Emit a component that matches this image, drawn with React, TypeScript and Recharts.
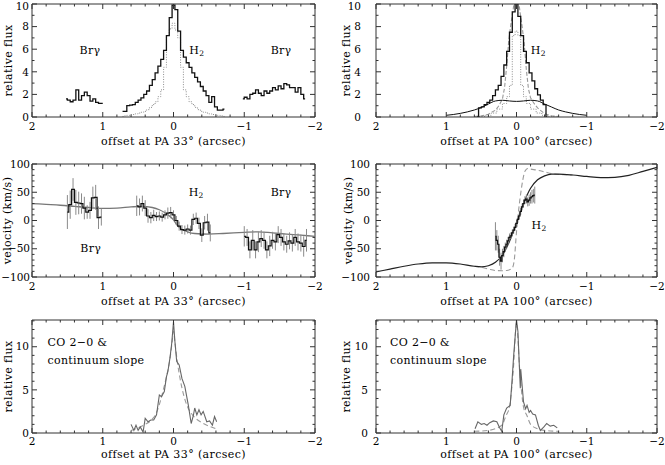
import React from "react";
import { LineChart, Line, XAxis, YAxis, ErrorBar, ReferenceDot, ReferenceLine } from "recharts";

const FONT = "'DejaVu Serif', serif";
const FRAME = "#333";

// ---- tick values and labels
const offsetTicks = [2, 1.8, 1.6, 1.4, 1.2, 1, 0.8, 0.6, 0.4, 0.2, 0, -0.2, -0.4, -0.6, -0.8, -1, -1.2, -1.4, -1.6, -1.8, -2];
const offsetMajor = [2, 1, 0, -1, -2];
const fluxTicks = [0, 1, 2, 3, 4, 5, 6, 7, 8, 9, 10];
const fluxMajor = [0, 2, 4, 6, 8, 10];
const velTicks = [-100, -90, -80, -70, -60, -50, -40, -30, -20, -10, 0, 10, 20, 30, 40, 50, 60, 70, 80, 90, 100];
const velMajor = [-100, -50, 0, 50, 100];
const coTicks = [0, 1, 2, 3, 4, 5, 6, 7, 8, 9, 10, 11, 12, 13];
const coMajor = [0, 5, 10];

// ---- panel 1: flux along PA 33
const p1H2Off = [0.72, 0.68, 0.64, 0.6, 0.56, 0.52, 0.48, 0.44, 0.4, 0.36, 0.32, 0.28, 0.24, 0.2, 0.16, 0.12, 0.08, 0.04, 0, -0.04, -0.08, -0.12, -0.16, -0.2, -0.24, -0.28, -0.32, -0.36, -0.4, -0.44, -0.48, -0.52, -0.56, -0.6, -0.64, -0.68, -0.72];
const p1H2Flux = [0.5, 0.5, 1.0, 1.05, 1.1, 1.3, 1.5, 1.7, 2.0, 2.3, 2.8, 3.3, 3.9, 4.5, 5.1, 5.9, 7.2, 8.8, 9.9, 9.5, 7.6, 5.9, 5.3, 4.8, 4.4, 3.9, 3.5, 3.1, 2.7, 2.3, 1.9, 1.3, 1.8, 0.9, 0.6, 0.6, 0.7];
const p1PsfFlux = [0.05, 0.1, 0.15, 0.2, 0.22, 0.28, 0.35, 0.42, 0.5, 0.65, 0.85, 1.1, 1.35, 1.8, 2.4, 4.4, 7.2, 7.8, 8.3, 7.7, 7.0, 4.4, 2.4, 1.8, 1.35, 1.1, 0.85, 0.65, 0.5, 0.42, 0.35, 0.28, 0.22, 0.2, 0.15, 0.1, 0.05];
const p1BrLOff = [1.52, 1.48, 1.44, 1.4, 1.36, 1.32, 1.28, 1.24, 1.2, 1.16, 1.12, 1.08, 1.04, 1.0];
const p1BrLFlux = [1.6, 1.5, 1.35, 1.5, 2.4, 1.5, 1.9, 2.2, 1.9, 1.4, 1.6, 1.3, 1.2, 1.2];
const p1BrROff = [-0.98, -1.02, -1.06, -1.1, -1.14, -1.18, -1.22, -1.26, -1.3, -1.34, -1.38, -1.42, -1.46, -1.5, -1.54, -1.58, -1.62, -1.66, -1.7, -1.74, -1.78, -1.82, -1.86];
const p1BrRFlux = [1.6, 1.75, 1.6, 2.0, 2.1, 2.4, 2.1, 1.9, 2.3, 2.1, 2.3, 2.6, 2.4, 2.75, 2.5, 2.95, 2.85, 2.6, 2.6, 2.2, 2.6, 2.0, 1.6];

// ---- panel 2: flux along PA 100
const p2H2Off = [0.56, 0.52, 0.48, 0.44, 0.4, 0.36, 0.32, 0.28, 0.24, 0.2, 0.16, 0.12, 0.08, 0.04, 0, -0.04, -0.08, -0.12, -0.16, -0.2, -0.24, -0.28, -0.32, -0.36, -0.4, -0.44];
const p2H2Flux = [0, 0.8, 0.9, 1.1, 1.3, 1.5, 1.9, 2.4, 2.8, 3.6, 4.6, 5.8, 7.5, 9.3, 11.0, 8.9, 7.2, 5.8, 4.8, 3.9, 3.2, 2.5, 1.95, 1.5, 1.1, 0];
const p2NarrowOff = [0.6, 0.5, 0.4, 0.3, 0.25, 0.2, 0.17, 0.14, 0.11, 0.08, 0.05, 0.02, 0, -0.02, -0.05, -0.08, -0.11, -0.14, -0.17, -0.2, -0.25, -0.3, -0.4, -0.5, -0.6];
const p2NarrowFlux = [0.05, 0.1, 0.25, 0.6, 1.0, 1.6, 2.6, 4.5, 6.8, 8.2, 9.4, 10.8, 11.5, 10.8, 9.3, 8.0, 6.5, 4.2, 2.5, 1.7, 1.2, 0.8, 0.3, 0.1, 0.05];
const p2PsfOff = [0.6, 0.5, 0.4, 0.32, 0.24, 0.16, 0.12, 0.08, 0.04, 0, -0.04, -0.08, -0.12, -0.16, -0.24, -0.32, -0.4, -0.5, -0.6];
const p2PsfFlux = [0.02, 0.05, 0.15, 0.35, 0.7, 1.2, 1.8, 2.8, 7.2, 7.6, 7.2, 2.8, 1.8, 1.2, 0.7, 0.35, 0.15, 0.05, 0.02];
const p2BroadOff = [1.0, 0.9, 0.8, 0.7, 0.6, 0.5, 0.4, 0.3, 0.2, 0.1, 0, -0.1, -0.2, -0.3, -0.4, -0.5, -0.6, -0.7, -0.8, -0.9, -1.0];
const p2BroadFlux = [0.15, 0.22, 0.32, 0.45, 0.62, 0.85, 1.15, 1.42, 1.48, 1.42, 1.38, 1.42, 1.48, 1.42, 1.15, 0.88, 0.62, 0.45, 0.32, 0.22, 0.15];

// ---- panel 3: velocity along PA 33
const p3ModelOff = [2.0, 1.8, 1.6, 1.4, 1.2, 1.0, 0.8, 0.6, 0.45, 0.3, 0.2, 0.1, 0, -0.05, -0.1, -0.2, -0.3, -0.5, -0.7, -1.0, -1.2, -1.4, -1.6, -1.8, -2.0];
const p3ModelVel = [30, 28.5, 27, 25, 23, 21.5, 22, 24, 25, 23, 19, 12, 1, -8, -14, -20, -23, -24, -23, -21, -20, -22, -24, -26, -28];
const p3BrLOff = [1.5, 1.46, 1.42, 1.38, 1.34, 1.3, 1.26, 1.22, 1.18, 1.14, 1.1, 1.06, 1.02];
const p3BrLVel = [15, 28, 55, 32, 31, 30, 22, 15, 18, 40, 41, 5, 6];
const p3BrLErr = [30, 25, 20, 22, 20, 18, 20, 12, 15, 20, 22, 20, 15];
const p3H2Off = [0.52, 0.48, 0.44, 0.4, 0.36, 0.32, 0.28, 0.24, 0.2, 0.16, 0.12, 0.08, 0.04, 0, -0.04, -0.08, -0.12, -0.16, -0.2, -0.24, -0.28, -0.32, -0.36, -0.4, -0.44, -0.48, -0.52];
const p3H2Vel = [26, 24, 30, 22, 8, 5, 9, 7, 8, 6, 10, 13, 14, 10, 0, -10, -16, -17, -15, -17, 2, 4, -5, -26, -4, -3, -22];
const p3H2Err = [18, 15, 14, 14, 12, 10, 10, 8, 8, 8, 8, 10, 10, 8, 8, 8, 8, 8, 8, 8, 10, 10, 10, 12, 12, 15, 15];
const p3BrROff = [-1.0, -1.04, -1.08, -1.12, -1.16, -1.2, -1.24, -1.28, -1.32, -1.36, -1.4, -1.44, -1.48, -1.52, -1.56, -1.6, -1.64, -1.68, -1.72, -1.76, -1.8, -1.84, -1.88];
const p3BrRVel = [-28, -30, -52, -35, -52, -38, -32, -35, -52, -45, -35, -38, -25, -30, -38, -42, -36, -40, -30, -38, -40, -46, -35];
const p3BrRErr = [18, 15, 15, 18, 15, 18, 15, 15, 15, 18, 15, 15, 15, 15, 15, 15, 15, 15, 15, 15, 15, 18, 20];

// ---- panel 4: velocity along PA 100
const p4ModelOff = [2.0, 1.8, 1.6, 1.4, 1.2, 1.0, 0.8, 0.6, 0.5, 0.4, 0.3, 0.2, 0.1, 0, -0.1, -0.2, -0.3, -0.4, -0.5, -0.6, -0.8, -1.0, -1.2, -1.4, -1.6, -1.8, -2.0];
const p4ModelVel = [-91, -86, -81, -77, -75, -75, -77, -81, -82, -80, -74, -61, -37, -5, 30, 57, 72, 79, 82, 82, 80.5, 78, 76, 76.5, 80, 87, 94];
const p4DiskOff = [0.6, 0.5, 0.4, 0.3, 0.2, 0.12, 0.06, 0.03, 0, -0.03, -0.06, -0.09, -0.12, -0.16, -0.2, -0.3, -0.4, -0.5, -0.6, -0.7, -0.8];
const p4DiskVel = [-81, -83, -86, -88.5, -89, -88, -84, -68, -20, 18, 48, 72, 87, 92, 91, 89, 86, 83, 81.5, 81, 80.5];
const p4H2Off = [0.3, 0.28, 0.26, 0.24, 0.22, 0.2, 0.18, 0.16, 0.14, 0.12, 0.1, 0.08, 0.06, 0.04, 0.02, 0, -0.02, -0.04, -0.06, -0.08, -0.1, -0.12, -0.14, -0.16, -0.18, -0.2, -0.22, -0.24, -0.26];
const p4H2Vel = [-28, -35, -42, -65, -72, -62, -55, -47, -42, -36, -30, -27, -22, -17, -12, -5, 2, 8, 16, 24, 30, 36, 38, 33, 36, 40, 42, 44, 45];
const p4H2Err = [25, 18, 15, 15, 15, 12, 10, 8, 8, 7, 7, 6, 6, 6, 6, 6, 6, 6, 6, 6, 7, 7, 8, 8, 10, 10, 12, 12, 15];

// ---- panel 5: CO 2-0 along PA 33
const p5CoOff = [0.6, 0.56, 0.53, 0.5, 0.47, 0.43, 0.4, 0.36, 0.32, 0.28, 0.24, 0.2, 0.17, 0.13, 0.1, 0.08, 0.05, 0.025, 0, -0.02, -0.045, -0.08, -0.12, -0.16, -0.21, -0.25, -0.28, -0.3, -0.33, -0.36, -0.39, -0.42, -0.47, -0.51, -0.55, -0.58, -0.61];
const p5CoFlux = [1.0, 0.3, 0.9, 0.3, 0.7, 0.1, 1.7, 1.3, 1.5, 1.5, 2.1, 4.4, 4.2, 4.8, 6.5, 7.1, 8.7, 10.4, 12.9, 10.6, 8.3, 7.9, 6.3, 5.4, 3.2, 1.1, 2.0, 2.9, 2.1, 2.7, 2.1, 2.5, 1.3, 1.4, 0.9, 1.9, 1.3];
const p5FitOff = [0.6, 0.5, 0.4, 0.3, 0.25, 0.2, 0.15, 0.1, 0.05, 0.02, 0, -0.02, -0.05, -0.1, -0.15, -0.2, -0.25, -0.3, -0.4, -0.5, -0.6];
const p5FitFlux = [0.3, 0.6, 1.0, 1.6, 2.2, 3.3, 4.8, 6.5, 8.6, 10.5, 11.8, 10.5, 8.5, 6.0, 4.2, 3.0, 2.3, 1.8, 1.2, 0.8, 0.5];

// ---- panel 6: CO 2-0 along PA 100
const p6CoOff = [0.59, 0.55, 0.5, 0.46, 0.42, 0.38, 0.33, 0.28, 0.24, 0.21, 0.18, 0.14, 0.09, 0.065, 0.04, 0.017, 0, -0.02, -0.04, -0.054, -0.06, -0.08, -0.1, -0.13, -0.15, -0.18, -0.2, -0.23, -0.27, -0.31, -0.34, -0.39, -0.43, -0.48, -0.53, -0.58];
const p6CoFlux = [0.5, 1.3, 1.0, 1.1, 0.9, 1.2, 1.4, 1.3, 0.6, 0.2, 2.1, 2.9, 3.2, 5.9, 9.0, 11.4, 13.1, 11.8, 7.9, 5.2, 7.4, 5.5, 3.6, 2.8, 3.2, 2.4, 2.6, 2.2, 2.1, 0.9, 0.3, 0.7, 1.1, 0.8, 0.9, 0.6];
const p6FitOff = [0.6, 0.4, 0.3, 0.2, 0.15, 0.1, 0.07, 0.04, 0.02, 0, -0.02, -0.04, -0.07, -0.1, -0.15, -0.2, -0.3, -0.4, -0.6];
const p6FitFlux = [0.2, 0.3, 0.5, 1.0, 2.0, 3.0, 5.0, 8.0, 11.0, 12.8, 11.0, 8.0, 5.0, 3.0, 2.0, 1.0, 0.5, 0.3, 0.2];

type Pt = { x: number; y: number; e?: number };
const zip = (xs: number[], ys: number[], es?: number[]): Pt[] =>
  xs.map((x, i) => ({ x, y: ys[i], e: es ? es[i] : undefined }));

type Series = {
  data: Pt[];
  curve: "step" | "linear" | "monotone";
  stroke: string;
  width: number;
  dash?: string;
  err?: boolean;
};

type Note = { x: number; y: number; text: string; sub?: string; anchor?: string };

const fmt = (v: number) => (v < 0 ? `\u2212${-v}` : `${v}`);
const isMajor = (majors: number[], v: number) => majors.some((m) => Math.abs(m - v) < 1e-6);

// ticks point inwards and are mirrored on the opposite side of the frame
const mkTick = (side: "bottom" | "left", majors: number[], span: number, gap = 3, labelDy = 13) => (props: any) => {
  const { x, y, payload } = props;
  const v = payload.value;
  const major = isMajor(majors, v);
  const len = major ? 5 : 2.5;
  const text = { fontFamily: FONT, fontSize: 10.5, fill: "#000" } as const;
  if (side === "bottom")
    return (
      <g>
        <line x1={x} x2={x} y1={y} y2={y - len} stroke={FRAME} />
        <line x1={x} x2={x} y1={y - span} y2={y - span + len} stroke={FRAME} />
        {major && (
          <text x={x} y={y + labelDy} textAnchor="middle" {...text}>
            {fmt(v)}
          </text>
        )}
      </g>
    );
  return (
    <g>
      <line x1={x} x2={x + len} y1={y} y2={y} stroke={FRAME} />
      <line x1={x + span} x2={x + span - len} y1={y} y2={y} stroke={FRAME} />
      {major && (
        <text x={x - gap} y={Math.max(y + 3.7, 10)} textAnchor="end" {...text}>
          {fmt(v)}
        </text>
      )}
    </g>
  );
};

const titleFont = { fontFamily: FONT, fontSize: 11, letterSpacing: 0.4, fill: "#000" };

const XTitle = (props: any) => {
  const vb = props.viewBox || { x: 0, y: 0, width: 0 };
  return (
    <text x={vb.x + vb.width / 2} y={vb.y + props.shiftY} textAnchor="middle" {...titleFont}>
      {props.caption}
    </text>
  );
};

const YTitle = (props: any) => {
  const vb = props.viewBox || { y: 0, height: 0 };
  const cy = vb.y + vb.height / 2;
  return (
    <text x={props.cx} y={cy} transform={`rotate(-90 ${props.cx} ${cy})`} textAnchor="middle" dominantBaseline="central" {...titleFont}>
      {props.caption}
    </text>
  );
};

const NoteText = (props: any) => {
  const vb = props.viewBox || { x: 0, y: 0 };
  return (
    <text x={vb.x} y={vb.y} textAnchor={props.anchor || "middle"} dominantBaseline="central" fontFamily={FONT} fontSize={11} letterSpacing={0.3} fill="#000">
      {props.caption}
      {props.sub && (
        <tspan fontSize={7.5} dy={3}>
          {props.sub}
        </tspan>
      )}
    </text>
  );
};

type PanelProps = {
  box: { l: number; t: number; w: number; h: number };
  plot: { l: number; r: number; t: number; b: number };
  yDomain: [number, number];
  yTicks: number[];
  yMajor: number[];
  yTitle: string;
  yTitleX: number;
  labelGap: number;
  tickDy: number;
  xTitle: string;
  xTitleDy: number;
  series: Series[];
  notes: Note[];
};

function Panel(p: PanelProps) {
  const { box, plot } = p;
  const margin = { top: plot.t - box.t, right: box.l + box.w - plot.r, bottom: 0, left: 0 };
  const common = { type: "number" as const, allowDataOverflow: true, interval: 0 as const, tickSize: 0, tickMargin: 0, tickLine: false, axisLine: { stroke: FRAME } };
  return (
    <div style={{ position: "absolute", left: box.l, top: box.t }}>
      <LineChart width={box.w} height={box.h} margin={margin}>
        <XAxis {...common} dataKey="x" domain={[-2, 2]} reversed ticks={offsetTicks} height={box.t + box.h - plot.b} tick={mkTick("bottom", offsetMajor, plot.b - plot.t, 0, p.tickDy)} label={<XTitle caption={p.xTitle} shiftY={p.xTitleDy} />} />
        <YAxis {...common} domain={p.yDomain} ticks={p.yTicks} width={plot.l - box.l} tick={mkTick("left", p.yMajor, plot.r - plot.l, p.labelGap)} label={<YTitle caption={p.yTitle} cx={p.yTitleX - box.l} />} />
        <ReferenceLine y={p.yDomain[1]} stroke={FRAME} strokeWidth={1} />
        <ReferenceLine x={-2} stroke={FRAME} strokeWidth={1} />
        {p.series.map((s, i) => (
          <Line key={i} data={s.data} dataKey="y" type={s.curve} stroke={s.stroke} strokeWidth={s.width} strokeDasharray={s.dash} dot={false} activeDot={false} isAnimationActive={false}>
            {s.err && <ErrorBar dataKey="e" direction="y" width={0} stroke="#8a8a8a" strokeWidth={1} />}
          </Line>
        ))}
        {p.notes.map((n, i) => (
          <ReferenceDot key={`n${i}`} x={n.x} y={n.y} r={0} fill="none" stroke="none" label={<NoteText caption={n.text} sub={n.sub} anchor={n.anchor} />} />
        ))}
      </LineChart>
    </div>
  );
}

const BLACK = "#111";
const GRAY = "#8c8c8c";

export default function App() {
  const leftBox = { l: 0, w: 332 };
  const rightBox = { l: 333, w: 332 };
  const leftPlot = { l: 32, r: 315 };
  const rightPlot = { l: 376, r: 657 };
  const row1 = { t: 0, h: 150, pt: 4, pb: 117 };
  const row2 = { t: 150, h: 160, pt: 164, pb: 277 };
  const row3 = { t: 310, h: 155, pt: 320, pb: 433 };

  return (
    <div style={{ position: "absolute", left: 0, top: 0, width: 665, height: 465, background: "#fff", overflow: "hidden" }}>
      <Panel
        box={{ ...leftBox, t: row1.t, h: row1.h }}
        plot={{ ...leftPlot, t: row1.pt, b: row1.pb }}
        yDomain={[0, 10]}
        yTicks={fluxTicks}
        yMajor={fluxMajor}
        yTitle="relative flux"
        yTitleX={8}
        labelGap={3}
        tickDy={13}
        xTitle="offset at PA 33° (arcsec)"
        xTitleDy={28}
        series={[
          { data: zip(p1H2Off, p1PsfFlux), curve: "step", stroke: GRAY, width: 1, dash: "1 1.5" },
          { data: zip(p1H2Off, p1H2Flux), curve: "step", stroke: BLACK, width: 1.3 },
          { data: zip(p1BrLOff, p1BrLFlux), curve: "step", stroke: BLACK, width: 1.3 },
          { data: zip(p1BrROff, p1BrRFlux), curve: "step", stroke: BLACK, width: 1.3 },
        ]}
        notes={[
          { x: 1.18, y: 5.9, text: "Brγ" },
          { x: -0.33, y: 5.9, text: "H", sub: "2" },
          { x: -1.52, y: 5.9, text: "Brγ" },
        ]}
      />
      <Panel
        box={{ ...rightBox, t: row1.t, h: row1.h }}
        plot={{ ...rightPlot, t: row1.pt, b: row1.pb }}
        yDomain={[0, 10]}
        yTicks={fluxTicks}
        yMajor={fluxMajor}
        yTitle="relative flux"
        yTitleX={346}
        labelGap={15}
        tickDy={13}
        xTitle="offset at PA 100° (arcsec)"
        xTitleDy={28}
        series={[
          { data: zip(p2PsfOff, p2PsfFlux), curve: "step", stroke: GRAY, width: 1, dash: "1 1.5" },
          { data: zip(p2NarrowOff, p2NarrowFlux), curve: "linear", stroke: "#9a9a9a", width: 1.1, dash: "4 2" },
          { data: zip(p2BroadOff, p2BroadFlux), curve: "monotone", stroke: BLACK, width: 1 },
          { data: zip(p2H2Off, p2H2Flux), curve: "step", stroke: BLACK, width: 1.3 },
        ]}
        notes={[{ x: -0.31, y: 5.9, text: "H", sub: "2" }]}
      />
      <Panel
        box={{ ...leftBox, t: row2.t, h: row2.h }}
        plot={{ ...leftPlot, t: row2.pt, b: row2.pb }}
        yDomain={[-100, 100]}
        yTicks={velTicks}
        yMajor={velMajor}
        yTitle="velocity (km/s)"
        yTitleX={7}
        labelGap={2}
        tickDy={13}
        xTitle="offset at PA 33° (arcsec)"
        xTitleDy={28}
        series={[
          { data: zip(p3ModelOff, p3ModelVel), curve: "monotone", stroke: "#777", width: 1.3 },
          { data: zip(p3BrLOff, p3BrLVel, p3BrLErr), curve: "step", stroke: BLACK, width: 1.2, err: true },
          { data: zip(p3H2Off, p3H2Vel, p3H2Err), curve: "step", stroke: BLACK, width: 1.2, err: true },
          { data: zip(p3BrROff, p3BrRVel, p3BrRErr), curve: "step", stroke: BLACK, width: 1.2, err: true },
        ]}
        notes={[
          { x: -0.32, y: 50, text: "H", sub: "2" },
          { x: -1.52, y: 50, text: "Brγ" },
          { x: 1.17, y: -49, text: "Brγ" },
        ]}
      />
      <Panel
        box={{ ...rightBox, t: row2.t, h: row2.h }}
        plot={{ ...rightPlot, t: row2.pt, b: row2.pb }}
        yDomain={[-100, 100]}
        yTicks={velTicks}
        yMajor={velMajor}
        yTitle="velocity (km/s)"
        yTitleX={348}
        labelGap={6}
        tickDy={13}
        xTitle="offset at PA 100° (arcsec)"
        xTitleDy={28}
        series={[
          { data: zip(p4DiskOff, p4DiskVel), curve: "monotone", stroke: "#9a9a9a", width: 1.1, dash: "5 3" },
          { data: zip(p4ModelOff, p4ModelVel), curve: "monotone", stroke: "#222", width: 1.2 },
          { data: zip(p4H2Off, p4H2Vel, p4H2Err), curve: "step", stroke: BLACK, width: 1.2, err: true },
        ]}
        notes={[{ x: -0.32, y: -8, text: "H", sub: "2" }]}
      />
      <Panel
        box={{ ...leftBox, t: row3.t, h: row3.h }}
        plot={{ ...leftPlot, t: row3.pt, b: row3.pb }}
        yDomain={[0, 13.1]}
        yTicks={coTicks}
        yMajor={coMajor}
        yTitle="relative flux"
        yTitleX={8}
        labelGap={3}
        tickDy={11.5}
        xTitle="offset at PA 33° (arcsec)"
        xTitleDy={25}
        series={[
          { data: zip(p5FitOff, p5FitFlux), curve: "monotone", stroke: "#9a9a9a", width: 1.1, dash: "5 3" },
          { data: zip(p5CoOff, p5CoFlux), curve: "linear", stroke: "#666", width: 1.1 },
        ]}
        notes={[
          { x: 1.78, y: 10.5, text: "CO 2\u22120 &", anchor: "start" },
          { x: 1.78, y: 8.4, text: "continuum slope", anchor: "start" },
        ]}
      />
      <Panel
        box={{ ...rightBox, t: row3.t, h: row3.h }}
        plot={{ ...rightPlot, t: row3.pt, b: row3.pb }}
        yDomain={[0, 13.1]}
        yTicks={coTicks}
        yMajor={coMajor}
        yTitle="relative flux"
        yTitleX={346}
        labelGap={8}
        tickDy={11.5}
        xTitle="offset at PA 100° (arcsec)"
        xTitleDy={25}
        series={[
          { data: zip(p6FitOff, p6FitFlux), curve: "monotone", stroke: "#9a9a9a", width: 1.1, dash: "5 3" },
          { data: zip(p6CoOff, p6CoFlux), curve: "linear", stroke: "#666", width: 1.1 },
        ]}
        notes={[
          { x: 1.8, y: 10.5, text: "CO 2\u22120 &", anchor: "start" },
          { x: 1.8, y: 8.4, text: "continuum slope", anchor: "start" },
        ]}
      />
    </div>
  );
}
